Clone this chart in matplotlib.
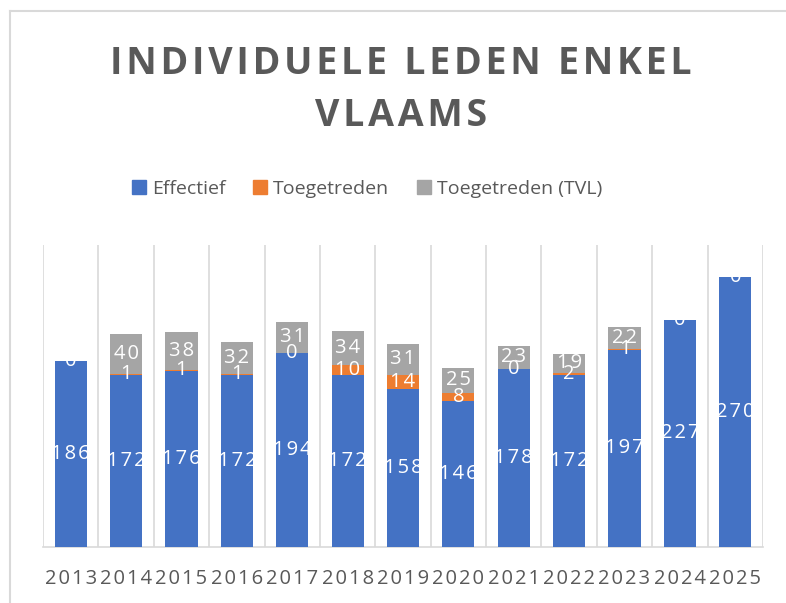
import matplotlib
import matplotlib.pyplot as plt
import numpy as np
from matplotlib.lines import Line2D
from matplotlib.patches import Patch

matplotlib.use("Agg")

years = ["2013", "2014", "2015", "2016", "2017", "2018", "2019",
         "2020", "2021", "2022", "2023", "2024", "2025"]
effectief = [186, 172, 176, 172, 194, 172, 158, 146, 178, 172, 197, 227, 270]
toegetreden = [0, 1, 1, 1, 0, 10, 14, 8, 0, 2, 1, 0, 0]
toegetreden_tvl = [None, 40, 38, 32, 31, 34, 31, 25, 23, 19, 22, None, None]

BLUE = "#4472C4"
ORANGE = "#ED7D31"
GRAY = "#A5A5A5"
TEXT = "#595959"
GRID = "#D9D9D9"
HAIR = "\u200a"

plt.rcParams["font.family"] = ["Open Sans", "DejaVu Sans"]


def spaced(s):
    return HAIR.join(s)


W, H = 786, 603
fig = plt.figure(figsize=(W / 100, H / 100), dpi=100)
ax = fig.add_axes([43 / W, 1 - 547 / H, (763 - 43) / W, (547 - 245) / H])

x = np.arange(len(years))
eff = np.array(effectief, dtype=float)
toe = np.array(toegetreden, dtype=float)
tvl = np.array([np.nan if v is None else v for v in toegetreden_tvl], dtype=float)

width = 0.58
b1 = ax.bar(x, eff, width, color=BLUE, label="Effectief", zorder=3)
b2 = ax.bar(x, toe, width, bottom=eff, color=ORANGE, label="Toegetreden", zorder=3)
b3 = ax.bar(x, np.nan_to_num(tvl), width, bottom=eff + toe, color=GRAY,
            label="Toegetreden (TVL)", zorder=3)

lab_kw = dict(label_type="center", color="white", fontsize=14.5, zorder=4)
ax.bar_label(b1, labels=[spaced(str(v)) for v in effectief], **lab_kw)
ax.bar_label(b2, labels=[spaced(str(v)) for v in toegetreden], **lab_kw)
ax.bar_label(b3, labels=["" if v is None else spaced(str(v)) for v in toegetreden_tvl],
             **lab_kw)

ax.set_xlim(-0.5, len(years) - 0.5)
ax.set_ylim(0, 302)
ax.set_yticks([])
ax.set_xticks(x)
ax.set_xticklabels([spaced(y) for y in years], fontsize=14.5, color=TEXT)
ax.tick_params(axis="x", length=0, pad=16)
ax.set_xticks(np.arange(-0.5, len(years), 1), minor=True)
ax.tick_params(axis="x", which="minor", length=0)
ax.grid(True, which="minor", axis="x", color=GRID, linewidth=1.2, zorder=0)
for side in ["top", "right", "left"]:
    ax.spines[side].set_visible(False)
ax.spines["bottom"].set_color(GRID)
ax.spines["bottom"].set_linewidth(1.2)

title = spaced("INDIVIDUELE LEDEN ENKEL") + "\n" + spaced("VLAAMS")
fig.text(401 / W, 1 - 90 / H, title, ha="center", va="center",
         fontsize=27, fontweight="bold", color=TEXT, linespacing=1.45)

handles = [Patch(color=BLUE), Patch(color=ORANGE), Patch(color=GRAY)]
fig.legend(handles, ["Effectief", "Toegetreden", "Toegetreden (TVL)"],
           loc="center", bbox_to_anchor=(0.467, 1 - 189 / H), ncol=3, frameon=False,
           fontsize=14, labelcolor=TEXT, handlelength=0.75, handleheight=0.75,
           handletextpad=0.3, columnspacing=1.4)

# chart area border (left and top visible)
fig.add_artist(Line2D([10 / W, 10 / W], [0, 1 - 11 / H], color=GRID, linewidth=1.5,
                      transform=fig.transFigure))
fig.add_artist(Line2D([10 / W, 1], [1 - 11 / H, 1 - 11 / H], color=GRID, linewidth=1.5,
                      transform=fig.transFigure))

fig.savefig("out.png", dpi=100)
